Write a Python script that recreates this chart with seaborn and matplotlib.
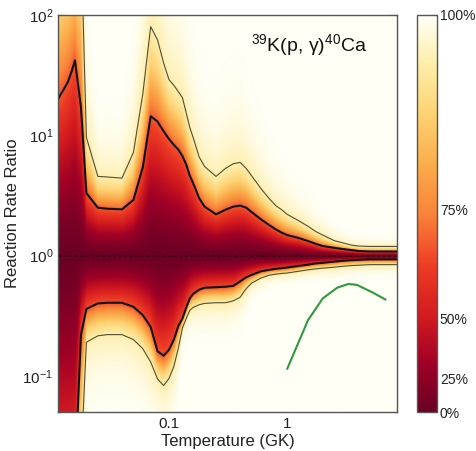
import math
import numpy as np
import pandas as pd
import seaborn as sns
import matplotlib
matplotlib.use("Agg")
import matplotlib.pyplot as plt
from matplotlib.colors import LinearSegmentedColormap, FuncNorm
from matplotlib.ticker import FixedLocator, FixedFormatter, NullFormatter, LogLocator

# Temperature grid (GK) of the rate evaluation
temps = [0.0115, 0.012, 0.013, 0.014, 0.015, 0.016,
         0.018, 0.02, 0.025, 0.03, 0.04,
         0.05, 0.06, 0.07, 0.08, 0.09,
         0.1, 0.11, 0.12, 0.13, 0.14,
         0.15, 0.16, 0.18, 0.2, 0.25,
         0.3, 0.35, 0.4, 0.45, 0.5,
         0.6, 0.7, 0.8, 0.9, 1.0,
         1.25, 1.5, 1.75, 2.0, 2.5,
         3.0, 3.5, 4.0, 5.0, 6.0,
         7.0, 8.5]

# 68% coverage bounds (rate / recommended rate)
upper_68 = [20, 21.5, 24.5, 28, 34, 42,
            17, 3.3, 2.5, 2.45, 2.42,
            2.9, 5.4, 14.4, 13.0, 10.8,
            9.3, 8.3, 7.6, 6.7, 5.7,
            4.6, 4.0, 3.0, 2.55, 2.2,
            2.4, 2.55, 2.6, 2.5, 2.3,
            2.0, 1.8, 1.65, 1.55, 1.48,
            1.40, 1.32, 1.25, 1.20, 1.16,
            1.13, 1.11, 1.09, 1.08, 1.08,
            1.08, 1.08]
lower_68 = [0.012, 0.012, 0.012, 0.012, 0.013, 0.015,
            0.22, 0.36, 0.40, 0.405, 0.405,
            0.375, 0.32, 0.255, 0.16, 0.147,
            0.165, 0.20, 0.26, 0.30, 0.37,
            0.44, 0.48, 0.52, 0.54, 0.545,
            0.55, 0.56, 0.61, 0.66, 0.69,
            0.74, 0.76, 0.775, 0.785, 0.795,
            0.82, 0.84, 0.86, 0.87, 0.89,
            0.905, 0.915, 0.92, 0.93, 0.93,
            0.93, 0.93]

# 95% coverage bounds
upper_95 = [300, 320, 350, 380, 420, 460,
            420, 9.6, 4.55, 4.5, 4.4,
            7.2, 22, 80, 62, 40,
            29, 26, 23, 20.5, 15.3,
            11.6, 9.6, 6.6, 5.5, 4.55,
            5.3, 5.8, 5.95, 5.3, 4.6,
            3.6, 3.0, 2.6, 2.4, 2.2,
            1.95, 1.75, 1.58, 1.48, 1.33,
            1.27, 1.22, 1.20, 1.19, 1.19,
            1.19, 1.19]
lower_95 = [0.001, 0.001, 0.001, 0.001, 0.001, 0.002,
            0.02, 0.19, 0.215, 0.22, 0.22,
            0.20, 0.168, 0.13, 0.094, 0.083,
            0.095, 0.12, 0.17, 0.25, 0.30,
            0.35, 0.37, 0.39, 0.40, 0.405,
            0.405, 0.42, 0.45, 0.53, 0.59,
            0.65, 0.685, 0.70, 0.71, 0.715,
            0.74, 0.76, 0.775, 0.785, 0.80,
            0.815, 0.825, 0.83, 0.84, 0.84,
            0.84, 0.84]

# Previous (comparison) rate relative to the recommended rate
comparison_T = [1.0, 1.5, 2.0, 2.65, 3.3, 3.9, 5.35, 6.8]
comparison_ratio = [0.114, 0.29, 0.44, 0.54, 0.58, 0.57, 0.49, 0.43]

reaction_label = r"$^{39}$K(p, γ)$^{40}$Ca"
coverage_ticks = [0, 25, 50, 75, 100]
coverage_labels = ["0%", "25%", "50%", "75%", "100%"]
x_ticks = [0.1, 1]
x_tick_labels = ["0.1", "1"]

t_min, t_max = 0.0115, 8.5
r_min, r_max = 0.05, 100

sns.set_theme(style="ticks", rc={
    "axes.edgecolor": "#555555",
    "xtick.color": "#555555",
    "ytick.color": "#555555",
    "xtick.labelcolor": "#222222",
    "ytick.labelcolor": "#222222",
    "axes.labelcolor": "#222222",
})
plt.rcParams["font.family"] = ["Liberation Sans", "DejaVu Sans"]
plt.rcParams["mathtext.fontset"] = "custom"
plt.rcParams["mathtext.rm"] = "Liberation Sans"
plt.rcParams["mathtext.it"] = "Liberation Sans:italic"
plt.rcParams["mathtext.bf"] = "Liberation Sans:bold"

# ---- coverage probability field ----
lx = np.linspace(np.log10(t_min), np.log10(t_max), 700)
ly = np.linspace(np.log10(r_min), np.log10(r_max), 700)
lt = np.log10(temps)
a1 = np.interp(lx, lt, np.log10(upper_68))[None, :]
a2 = np.interp(lx, lt, np.log10(upper_95))[None, :]
b1 = -np.interp(lx, lt, np.log10(lower_68))[None, :]
b2 = -np.interp(lx, lt, np.log10(lower_95))[None, :]
LY = ly[:, None]


def sigma_level(d, s1, s2):
    """Map a log-distance from the median onto an equivalent normal z."""
    inner = d / s1
    middle = 1 + (d - s1) / (s2 - s1)
    outer = 2 + 0.45 * (d - s2) / (s2 - s1)
    return np.where(d <= s1, inner, np.where(d <= s2, middle, outer))


z = np.where(LY >= 0, sigma_level(LY, a1, a2), sigma_level(-LY, b1, b2))
coverage = 100 * np.vectorize(math.erf)(z / math.sqrt(2))

# colour scale: stretched toward the high-coverage end
k = 2.35
def fwd(p):
    p = np.asarray(p, dtype=float)
    return (np.exp(k * p / 100.0) - 1) / (np.exp(k) - 1)
def inv(s):
    s = np.asarray(s, dtype=float)
    return 100.0 * np.log1p(np.clip(s, -0.99, None) * (np.exp(k) - 1)) / k
norm = FuncNorm((fwd, inv), vmin=0, vmax=100)

cmap = LinearSegmentedColormap.from_list("coverage", [
    (0.00, "#6a0024"), (0.12, "#a00026"), (0.24, "#d31a1f"),
    (0.37, "#ee3d25"), (0.50, "#f9843a"), (0.62, "#fbab4a"),
    (0.75, "#fdd272"), (0.88, "#feeeaa"), (1.00, "#fffff6")])

fig = plt.figure(figsize=(4.77, 4.51), dpi=100)
ax = fig.add_axes([58 / 477, 39 / 451, 339 / 477, 397 / 451])
cax = fig.add_axes([417 / 477, 39 / 451, 20 / 477, 397 / 451])

mesh = ax.pcolormesh(10 ** lx, 10 ** ly, coverage, cmap=cmap, norm=norm,
                     shading="gouraud", rasterized=True)

bands = pd.DataFrame({"T": temps, "u68": upper_68, "l68": lower_68,
                      "u95": upper_95, "l95": lower_95})
for col in ["u95", "l95"]:
    sns.lineplot(data=bands, x="T", y=col, ax=ax, color="#4f4f36", lw=0.8)
for col in ["u68", "l68"]:
    sns.lineplot(data=bands, x="T", y=col, ax=ax, color="#111111", lw=1.5)
ax.axhline(1.0, color="#2a0008", lw=1.1, ls=(0, (2, 1.6)), alpha=0.85)
sns.lineplot(x=comparison_T, y=comparison_ratio, ax=ax, color="#2f9a3c", lw=1.5)

ax.set_xscale("log")
ax.set_yscale("log")
ax.set_xlim(t_min, t_max)
ax.set_ylim(r_min, r_max)
ax.xaxis.set_major_locator(FixedLocator(x_ticks))
ax.xaxis.set_major_formatter(FixedFormatter(x_tick_labels))
ax.xaxis.set_minor_locator(LogLocator(base=10, subs=np.arange(2, 10)))
ax.xaxis.set_minor_formatter(NullFormatter())
ax.yaxis.set_minor_formatter(NullFormatter())
ax.tick_params(which="both", direction="in", top=True, right=True, width=0.8)
ax.tick_params(which="major", length=6, labelsize=11)
ax.tick_params(which="minor", length=3)
ax.set_xlabel("Temperature (GK)", fontsize=12, labelpad=2)
ax.set_ylabel("Reaction Rate Ratio", fontsize=12, labelpad=2)
ax.text(0.74, 0.925, reaction_label, transform=ax.transAxes, ha="center",
        va="center", fontsize=14, color="#111111")
for s in ax.spines.values():
    s.set_linewidth(1.0)

cb = fig.colorbar(mesh, cax=cax)
cb.set_ticks(coverage_ticks)
cb.set_ticklabels(coverage_labels)
cb.ax.tick_params(direction="in", length=5, labelsize=10, width=0.8, pad=2)
cb.ax.minorticks_off()
cb.outline.set_edgecolor("#555555")
cb.outline.set_linewidth(1.0)

fig.savefig("out.png", dpi=100)
